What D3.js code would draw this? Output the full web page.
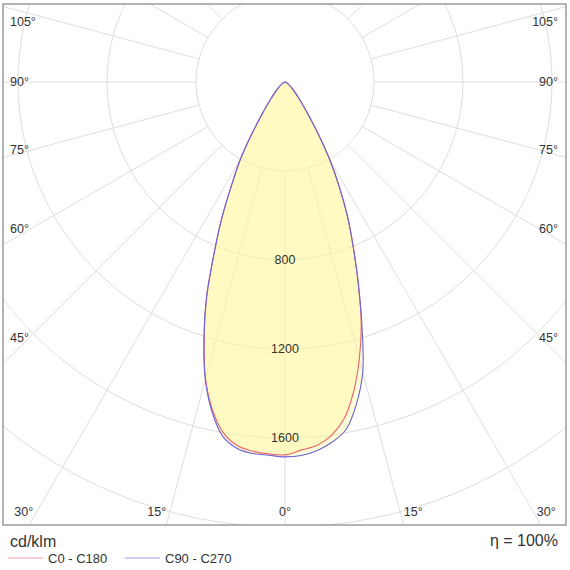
<!DOCTYPE html>
<html>
<head>
<meta charset="utf-8">
<script src="https://cdn.jsdelivr.net/npm/d3@7"></script>
<style>
  html, body { margin: 0; padding: 0; background: #fff; }
  svg { display: block; font-family: "Liberation Sans", Arial, sans-serif; }
</style>
</head>
<body>
<svg id="chart" width="570" height="570"></svg>
<script>
// ---- data (cd/klm) ----
const gammaAngles = [0,2.5,5,7.5,10,12.5,15,17.5,20,22.5,25,27.5,30,32.5,35,37.5,40,45,50,60,70,80,90];
const c0   = [1676,1656,1640,1602,1535,1425,1290,1140,963,801,662,525,400,280,190,135,100,58,36,14,6,2,0];
const c180 = [1676,1673,1666,1648,1600,1508,1380,1208,1030,832,668,515,400,280,190,135,100,58,36,14,6,2,0];
const c90  = [1685,1680,1662,1632,1585,1483,1350,1150,963,801,662,525,400,280,190,135,100,58,36,14,6,2,0];
const c270 = [1685,1679,1676,1660,1616,1517,1384,1212,1032,832,668,515,400,280,190,135,100,58,36,14,6,2,0];
const ringValues = [400, 800, 1200, 1600, 2000];
const ringLabels = ["800", "1200", "1600"];
const spokeAngles = d3.range(0, 360, 15);
const sideLabelAngles = [15, 30, 45, 60, 75, 90, 105];
const seriesNames = ["C0 - C180", "C90 - C270"];
const unitText = "cd/klm";
const etaText = "η = 100%";

// ---- layout ----
const box = {x: 3, y: 4, w: 563, h: 521};
const cx = 285, cy = 82;
const r = d3.scaleLinear().domain([0, 2000]).range([0, 445]);
const colors = {red: "#e8606a", blue: "#6a64d6"};

const svg = d3.select("#chart");
svg.append("defs").append("clipPath").attr("id", "clip")
  .append("rect").attr("x", box.x).attr("y", box.y).attr("width", box.w).attr("height", box.h);

const plot = svg.append("g").attr("clip-path", "url(#clip)");
const g = plot.append("g").attr("transform", `translate(${cx},${cy})`);

// grid
const toRad = a => a * Math.PI / 180;
g.selectAll("circle.ring").data(ringValues).join("circle")
  .attr("class", "ring").attr("r", d => r(d))
  .attr("fill", "none").attr("stroke", "#dedede").attr("stroke-width", 1);
g.selectAll("line.spoke").data(spokeAngles).join("line")
  .attr("class", "spoke")
  .attr("x1", d => r(400) * Math.sin(toRad(d)))
  .attr("y1", d => r(400) * Math.cos(toRad(d)))
  .attr("x2", d => r(4000) * Math.sin(toRad(d)))
  .attr("y2", d => r(4000) * Math.cos(toRad(d)))
  .attr("stroke", "#dedede").attr("stroke-width", 1);

// curves
function lobe(left, right) {
  const pts = [];
  for (let i = gammaAngles.length - 1; i >= 1; i--) pts.push([-gammaAngles[i], left[i]]);
  pts.push([0, (left[0] + right[0]) / 2]);
  for (let i = 1; i < gammaAngles.length; i++) pts.push([gammaAngles[i], right[i]]);
  return pts;
}
const line = d3.lineRadial()
  .angle(d => Math.PI - toRad(d[0]))
  .radius(d => r(d[1]))
  .curve(d3.curveCatmullRom.alpha(0.5));

const series = [
  {name: seriesNames[0], pts: lobe(c180, c0), color: colors.red},
  {name: seriesNames[1], pts: lobe(c270, c90), color: colors.blue}
];

g.selectAll("path.fill").data(series).join("path")
  .attr("class", "fill")
  .attr("d", d => line(d.pts) + "Z")
  .attr("fill", "#fff79a").attr("fill-opacity", 0.38).attr("stroke", "none");

// ring value labels
g.selectAll("text.rl").data(ringLabels).join("text")
  .attr("class", "rl")
  .attr("x", 0).attr("y", d => r(+d)).attr("dy", "0.35em")
  .attr("text-anchor", "middle").attr("font-size", 12.5).attr("fill", "#333")
  .text(d => d);

g.selectAll("path.curve").data(series).join("path")
  .attr("class", "curve")
  .attr("d", d => line(d.pts) + "Z")
  .attr("fill", "none").attr("stroke", d => d.color).attr("stroke-width", 1.1)
  .attr("stroke-linejoin", "round");

// box border
svg.append("rect").attr("x", box.x).attr("y", box.y).attr("width", box.w).attr("height", box.h)
  .attr("fill", "none").attr("stroke", "#8c8c8c").attr("stroke-width", 1.3);

// angle labels
const inner = {l: 22, r: 548, t: 22, b: 512};
function labelPos(a, side) {
  const dx = Math.sin(toRad(a)) * side, dy = Math.cos(toRad(a));
  const tx = side < 0 ? (inner.l - cx) / dx : (inner.r - cx) / dx;
  const ty = dy > 1e-9 ? (inner.b - cy) / dy : Infinity;
  if (ty < tx) {
    // bottom edge
    return {x: cx + dx * ty + side * 13, y: inner.b, anchor: "middle"};
  }
  let y = cy + dy * tx - 10 * Math.max(0, Math.cos(toRad(a)));
  y = Math.max(inner.t, Math.min(inner.b, y));
  return {x: side < 0 ? 10 : 558, y: y, anchor: side < 0 ? "start" : "end"};
}
const labelData = [];
sideLabelAngles.forEach(a => {
  labelData.push({a, p: labelPos(a, -1)});
  labelData.push({a, p: labelPos(a, 1)});
});
labelData.push({a: 0, p: {x: cx, y: inner.b, anchor: "middle"}});
svg.selectAll("text.al").data(labelData).join("text")
  .attr("class", "al")
  .attr("x", d => d.p.x).attr("y", d => d.p.y).attr("dy", "0.35em")
  .attr("text-anchor", d => d.p.anchor)
  .attr("font-size", 12.5).attr("fill", "#333")
  .text(d => d.a + "°");

// footer
svg.append("text").attr("x", 10).attr("y", 547).attr("font-size", 16).attr("fill", "#333").text(unitText);
svg.append("text").attr("x", 558).attr("y", 546).attr("text-anchor", "end")
  .attr("font-size", 16).attr("fill", "#333").text(etaText);

const leg = svg.append("g");
const legItems = [
  {name: seriesNames[0], color: colors.red, x: 8},
  {name: seriesNames[1], color: colors.blue, x: 125}
];
leg.selectAll("line").data(legItems).join("line")
  .attr("x1", d => d.x).attr("x2", d => d.x + 35)
  .attr("y1", 558).attr("y2", 558)
  .attr("stroke", d => d.color).attr("stroke-opacity", 0.6).attr("stroke-width", 1.2);
leg.selectAll("text").data(legItems).join("text")
  .attr("x", d => d.x + 40).attr("y", 563)
  .attr("font-size", 13).attr("fill", "#333")
  .text(d => d.name);
</script>
</body>
</html>
